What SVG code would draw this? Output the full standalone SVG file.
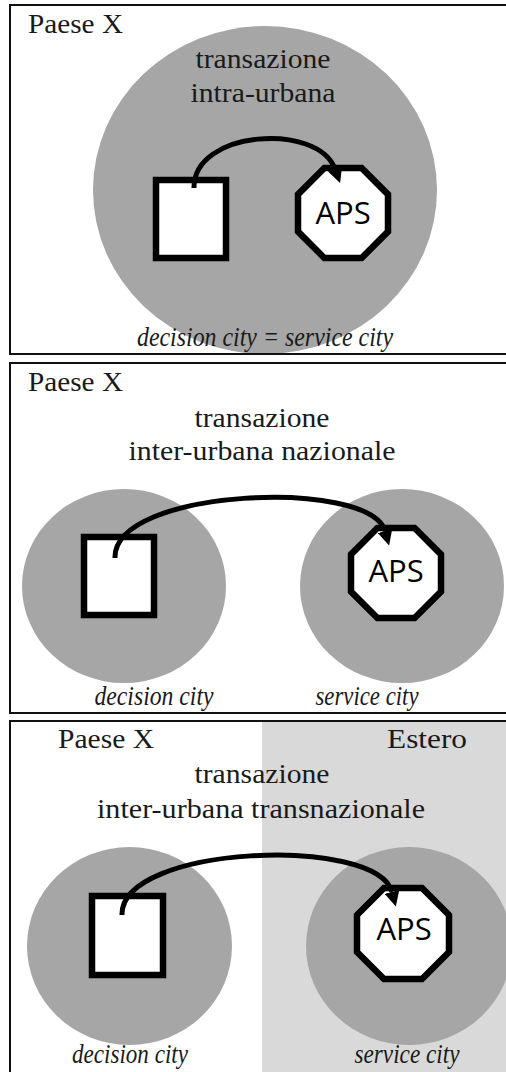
<svg xmlns="http://www.w3.org/2000/svg" width="506" height="1072" viewBox="0 0 506 1072">
<defs>
<style>
.frame{fill:none;stroke:#111;stroke-width:2}
.city{fill:#a6a6a6}
.foreign{fill:#d9d9d9}
.box{fill:#fff;stroke:#000;stroke-width:6.5}
.serif{font-family:"Liberation Serif","Times New Roman",serif;font-size:27px;fill:#1a1a1a}
.ital{font-family:"Liberation Serif","Times New Roman",serif;font-size:28px;font-style:italic;fill:#1a1a1a}
.aps{font-family:"Open Sans","Liberation Sans",sans-serif;font-size:31px;fill:#000;text-anchor:middle}
.mid{text-anchor:middle}
.arrow{fill:none;stroke:#000;stroke-width:5;marker-end:url(#head)}
</style>
<marker id="head" viewBox="0 0 10 10" refX="0" refY="5" markerWidth="15" markerHeight="15" markerUnits="userSpaceOnUse" orient="auto">
<path d="M0,0 L10,5 L0,10 Z" fill="#000"/>
</marker>
</defs>
<rect width="506" height="1072" fill="#fff"/>

<!-- Panel 1 -->
<g id="panel1">
<ellipse class="city" cx="265" cy="190" rx="172" ry="164"/>
<rect class="frame" x="10" y="5" width="500" height="349"/>
<text class="serif" x="28" y="33" textLength="95" lengthAdjust="spacingAndGlyphs">Paese X</text>
<text class="serif mid" x="263" y="68" textLength="135" lengthAdjust="spacingAndGlyphs">transazione</text>
<text class="serif mid" x="263" y="102" textLength="145" lengthAdjust="spacingAndGlyphs">intra-urbana</text>
<text class="ital mid" x="265" y="346" textLength="256" lengthAdjust="spacingAndGlyphs">decision city = service city</text>
</g>
<g id="p1-decision">
<rect class="box" x="156" y="180" width="70" height="78"/>
</g>
<g id="p1-aps">
<polygon class="box" points="324.4,168 361.6,168 388,194.4 388,231.6 361.6,258 324.4,258 298,231.6 298,194.4"/>
<text class="aps" x="343" y="224">APS</text>
</g>

<!-- Panel 2 -->
<g id="panel2">
<ellipse class="city" cx="124" cy="586" rx="102" ry="97"/>
<ellipse class="city" cx="402" cy="586" rx="102" ry="97"/>
<rect class="frame" x="10" y="363" width="500" height="350"/>
<text class="serif" x="28" y="391" textLength="95" lengthAdjust="spacingAndGlyphs">Paese X</text>
<text class="serif mid" x="262" y="427" textLength="135" lengthAdjust="spacingAndGlyphs">transazione</text>
<text class="serif mid" x="262" y="460" textLength="267" lengthAdjust="spacingAndGlyphs">inter-urbana nazionale</text>
<text class="ital mid" x="154" y="705" textLength="119" lengthAdjust="spacingAndGlyphs">decision city</text>
<text class="ital mid" x="367" y="705" textLength="103" lengthAdjust="spacingAndGlyphs">service city</text>
</g>
<g id="p2-decision">
<rect class="box" x="84" y="537" width="70" height="78"/>
</g>
<g id="p2-aps">
<polygon class="box" points="377.4,528 414.6,528 441,554.4 441,591.6 414.6,618 377.4,618 351,591.6 351,554.4"/>
<text class="aps" x="396" y="582">APS</text>
</g>

<!-- Panel 3 -->
<g id="panel3">
<rect class="foreign" x="262" y="721" width="250" height="360"/>
<ellipse class="city" cx="129.5" cy="946" rx="102.5" ry="99"/>
<ellipse class="city" cx="409" cy="946" rx="103" ry="99"/>
<rect class="frame" x="10" y="721" width="500" height="360"/>
<text class="serif" x="58" y="748" textLength="96" lengthAdjust="spacingAndGlyphs">Paese X</text>
<text class="serif" x="387" y="748" textLength="80" lengthAdjust="spacingAndGlyphs">Estero</text>
<text class="serif mid" x="262" y="783" textLength="135" lengthAdjust="spacingAndGlyphs">transazione</text>
<text class="serif mid" x="261" y="818" textLength="328" lengthAdjust="spacingAndGlyphs">inter-urbana transnazionale</text>
<text class="ital mid" x="130" y="1063" textLength="116" lengthAdjust="spacingAndGlyphs">decision city</text>
<text class="ital mid" x="407" y="1063" textLength="105" lengthAdjust="spacingAndGlyphs">service city</text>
</g>
<g id="p3-decision">
<rect class="box" x="92" y="896" width="71" height="79"/>
</g>
<g id="p3-aps">
<polygon class="box" points="384,888 422,888 449,915 449,952 422,979 384,979 357,952 357,915"/>
<text class="aps" x="404" y="940">APS</text>
</g>

<!-- Connectors -->
<g id="connectors">
<path class="arrow" d="M194,188 C193,130 318,122 335,169"/>
<path class="arrow" d="M115,558 C113,488 370,478 385,531"/>
<path class="arrow" d="M122,915 C120,845 377,835 392,892"/>
</g>
</svg>
